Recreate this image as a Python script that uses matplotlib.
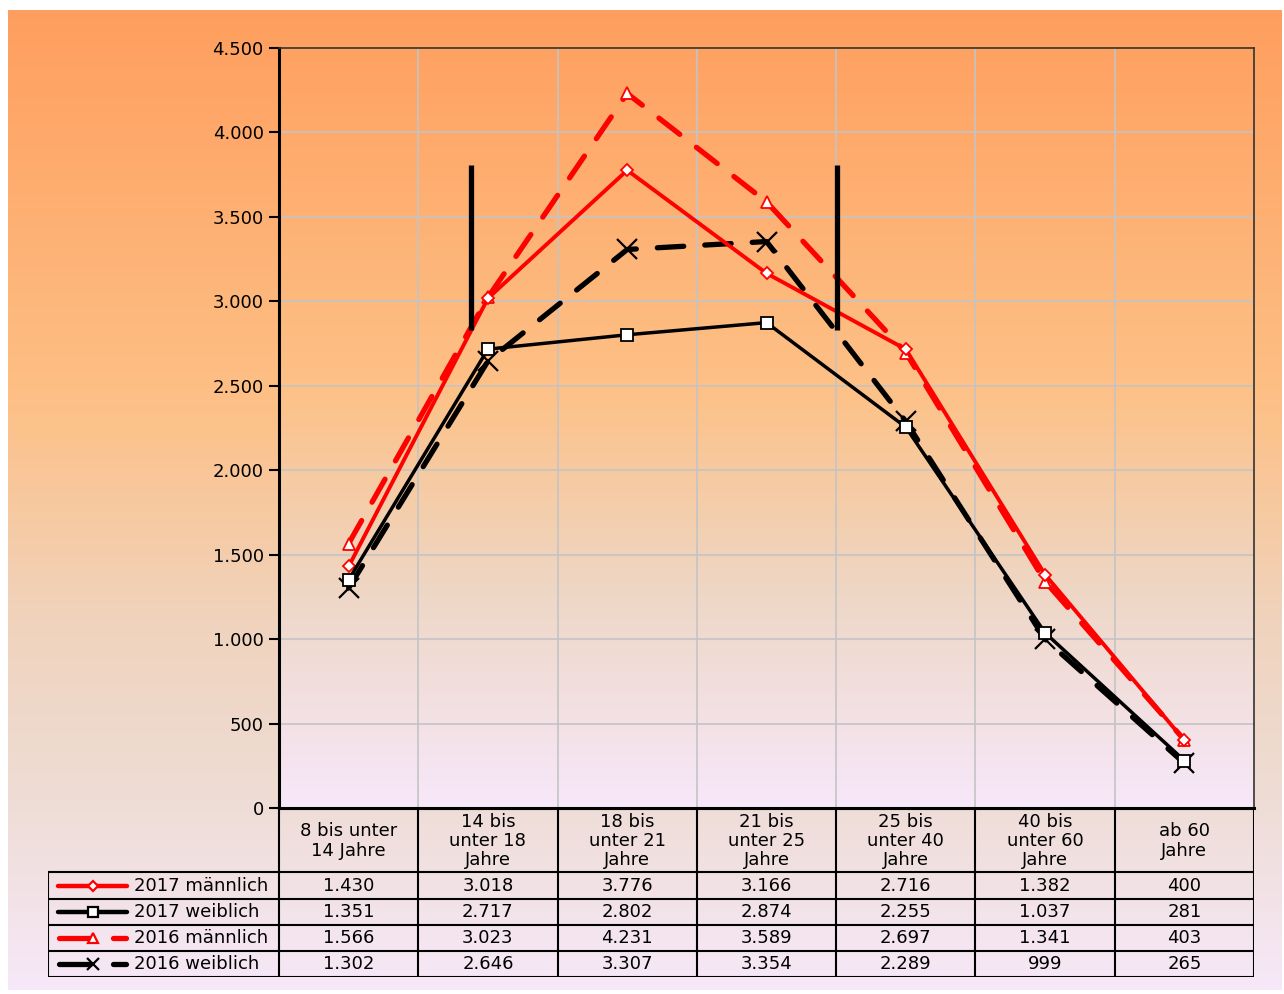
import numpy as np
import matplotlib
matplotlib.use("Agg")
import matplotlib.pyplot as plt
from matplotlib.colors import LinearSegmentedColormap

categories = ["8 bis unter\n14 Jahre", "14 bis\nunter 18\nJahre", "18 bis\nunter 21\nJahre",
              "21 bis\nunter 25\nJahre", "25 bis\nunter 40\nJahre", "40 bis\nunter 60\nJahre",
              "ab 60\nJahre"]
series_names = ["2017 männlich", "2017 weiblich", "2016 männlich", "2016 weiblich"]
m2017 = [1430, 3018, 3776, 3166, 2716, 1382, 400]
w2017 = [1351, 2717, 2802, 2874, 2255, 1037, 281]
m2016 = [1566, 3023, 4231, 3589, 2697, 1341, 403]
w2016 = [1302, 2646, 3307, 3354, 2289, 999, 265]
yticks = [0, 500, 1000, 1500, 2000, 2500, 3000, 3500, 4000, 4500]
# vertical marker bars (category position, from value, to value)
bars = [(0.876, 2830, 3807), (3.503, 2830, 3807)]

W, H = 1284, 994
plt.rcParams['font.family'] = ['DejaVu Sans']
fig = plt.figure(figsize=(W / 100, H / 100), dpi=100)

def px(x0, y0, x1, y1):
    return [x0 / W, 1 - y1 / H, (x1 - x0) / W, (y1 - y0) / H]

grad = np.linspace(0, 1, 256).reshape(-1, 1)

# outer gradient background
bg = fig.add_axes(px(8, 10, 1282, 990), zorder=-10)
cm_out = LinearSegmentedColormap.from_list("o", [(0, "#FF9E5E"), (0.4, "#FDC086"),
                                                (0.62, "#F0D3BC"), (0.8, "#EEDCD4"), (1, "#F6E8F8")])
bg.imshow(grad, aspect="auto", cmap=cm_out, extent=[0, 1, 0, 1])
bg.set_axis_off()

# main plot
ax = fig.add_axes(px(279, 48, 1254, 808))
cm_in = LinearSegmentedColormap.from_list("i", [(0, "#FFA262"), (0.45, "#FDC187"),
                                               (0.72, "#EED7C6"), (1, "#F7E8FA")])
x = np.arange(len(categories))
ax.imshow(grad, aspect="auto", cmap=cm_in, extent=[-0.5, 6.5, 0, 4500], zorder=0)
ax.set_xlim(-0.5, 6.5)
ax.set_ylim(0, 4500)
for b in np.arange(0.5, 6.5, 1):
    ax.axvline(b, color="#C4C4C4", lw=1.2, zorder=1)
for t in yticks[1:-1]:
    ax.axhline(t, color="#C4C4C4", lw=1.2, zorder=1)

dash = (5.0, 4.0)
ax.plot(x, m2016, color="#FF0000", lw=3.8, dashes=dash, dash_capstyle="round",
        marker="^", ms=8.5, mfc="white", mec="#FF0000", mew=1.3, zorder=4)
ax.plot(x, w2016, color="black", lw=3.8, dashes=dash, dash_capstyle="round",
        marker="x", ms=15, mec="black", mew=1.6, zorder=4)
ax.plot(x, m2017, color="#FF0000", lw=2.8, marker="D", ms=6.5,
        mfc="white", mec="#FF0000", mew=1.3, zorder=5)
ax.plot(x, w2017, color="black", lw=2.5, marker="s", ms=8,
        mfc="white", mec="black", mew=1.3, zorder=5)
for bx, y0, y1 in bars:
    ax.plot([bx, bx], [y0, y1], color="black", lw=3.8, solid_capstyle="butt", zorder=6)

ax.set_xticks([])
ax.set_yticks(yticks)
ax.set_yticklabels([f"{v:,}".replace(",", ".") for v in yticks], fontsize=13)
ax.tick_params(axis="y", length=7, width=1.5, direction="out", pad=4)
for s in ["left", "bottom"]:
    ax.spines[s].set_linewidth(2.2)
for s in ["top", "right"]:
    ax.spines[s].set_linewidth(1.2)
    ax.spines[s].set_color("#333333")

# table
tb = fig.add_axes(px(48, 808, 1254, 977))
tb.set_xlim(48, 1254)
tb.set_ylim(977, 808)
tb.set_axis_off()
col_edges = np.linspace(279, 1254, 8)
row_edges = [808, 872, 899, 925, 951, 977]
lk = dict(color="black", lw=1.5)
tb.plot([279, 1254], [808, 808], color="black", lw=2.2)
for ry in row_edges[1:]:
    tb.plot([48, 1254], [ry, ry], **lk)
for cx in col_edges:
    tb.plot([cx, cx], [808, 977], **lk)
tb.plot([48, 48], [872, 977], **lk)
for i, c in enumerate(categories):
    tb.text((col_edges[i] + col_edges[i + 1]) / 2, 841, c, ha="center", va="center",
            fontsize=13, linespacing=1.1)
all_series = [m2017, w2017, m2016, w2016]
styles = [dict(color="#FF0000", marker="D", ms=5, mfc="white", dashed=False),
          dict(color="black", marker="s", ms=7, mfc="white", dashed=False),
          dict(color="#FF0000", marker="^", ms=6.5, mfc="white", dashed=True),
          dict(color="black", marker="x", ms=8, mfc="none", dashed=True)]
for r, (name, vals, st) in enumerate(zip(series_names, all_series, styles)):
    yc = (row_edges[r + 1] + row_edges[r + 2]) / 2
    if st["dashed"]:
        tb.plot([59, 90], [yc, yc], color=st["color"], lw=3.8, solid_capstyle="round")
        tb.plot([113, 126], [yc, yc], color=st["color"], lw=3.8, solid_capstyle="round")
    else:
        tb.plot([58, 127], [yc, yc], color=st["color"], lw=3.2, solid_capstyle="round")
    tb.plot([93], [yc], marker=st["marker"], ms=st["ms"], mfc=st["mfc"],
            mec=st["color"], mew=1.6, color=st["color"])
    tb.text(134, yc, name, ha="left", va="center", fontsize=13)
    for i, v in enumerate(vals):
        tb.text((col_edges[i] + col_edges[i + 1]) / 2, yc, f"{v:,}".replace(",", "."),
                ha="center", va="center", fontsize=13)

fig.savefig("out.png", dpi=100)
